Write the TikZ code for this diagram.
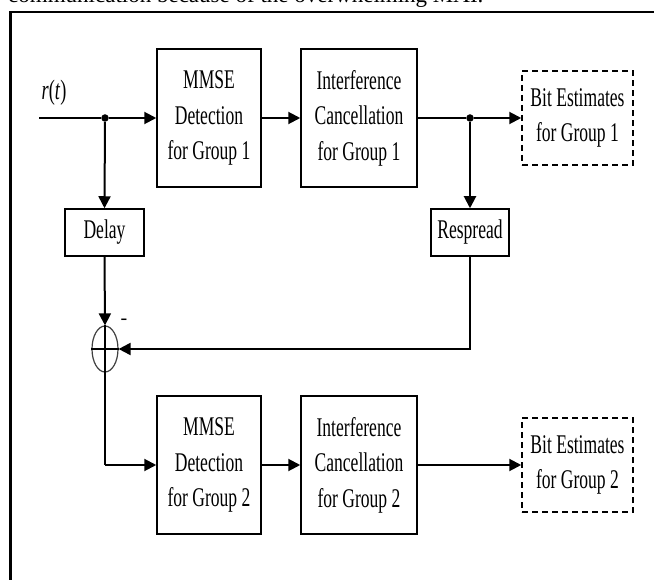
\documentclass[tikz,border=0pt]{standalone}
\usepackage{fontspec}
\setmainfont{Liberation Serif}
\newfontfamily\narrowfont{Liberation Serif}[FakeStretch=0.65]
\usetikzlibrary{arrows.meta,shapes.geometric}
\begin{document}
\begin{tikzpicture}[x=1pt,y=-1pt,
  blk/.style={draw,line width=1.5pt,inner sep=0pt,align=center,font=\narrowfont\fontsize{27}{35.5}\selectfont},
  dblk/.style={blk,dash pattern=on 6pt off 4pt},
  conn/.style={line width=2pt,-{Triangle[length=12pt,width=12pt]}},
  wire/.style={line width=2pt},
  dot/.style={circle,fill,inner sep=0pt,minimum size=7.5pt}]
\narrowfont\fontsize{27}{35.5}\selectfont
\useasboundingbox (0,0) rectangle (654,580);
\clip (0,0) rectangle (654,580);
% caption line cut at the top
\node[anchor=base west,inner sep=0pt,font=\rmfamily\fontsize{23}{27}\selectfont] (cap) at (8,3) {communication because of the overwhelming MAI.};
% outer frame
\draw[line width=2.6pt] (10.5,600) -- (10.5,12) -- (670,12);
% blocks
\node[blk,minimum width=104pt,minimum height=138pt] (mmse1) at (209,118) {MMSE\\Detection\\for Group 1};
\node[blk,minimum width=116pt,minimum height=138pt] (ic1) at (359,118) {Interference\\Cancellation\\for Group 1};
\node[dblk,minimum width=111pt,minimum height=94pt] (be1) at (577.5,118) {Bit Estimates\\for Group 1};
\node[blk,minimum width=79pt,minimum height=47pt] (delay) at (104.5,232.5) {Delay};
\node[blk,minimum width=78pt,minimum height=47pt] (resp) at (470,232.5) {Respread};
\node[draw=black!75,line width=1.2pt,ellipse,inner sep=0pt,minimum width=26pt,minimum height=46pt] (sum) at (105,349) {};
\node[blk,minimum width=104pt,minimum height=138pt] (mmse2) at (209,465) {MMSE\\Detection\\for Group 2};
\node[blk,minimum width=116pt,minimum height=138pt] (ic2) at (359,465) {Interference\\Cancellation\\for Group 2};
\node[dblk,minimum width=111pt,minimum height=94pt] (be2) at (577.5,465) {Bit Estimates\\for Group 2};
% labels
\node[inner sep=0pt,font=\narrowfont\fontsize{28}{30}\selectfont] (rt) at (54,93) {\textit{r}(\textit{t})};
\node[inner sep=0pt,font=\rmfamily\fontsize{20}{22}\selectfont] (minus) at (124,322) {-};
% junctions
\coordinate (in) at (39,118);
\node[dot] (d1) at (105,118) {};
\node[dot] (d2) at (470,118) {};
% cross in summer
\draw[line width=1.2pt] (sum.west) -- (sum.east);
\draw[line width=1.2pt] (sum.north) -- (sum.south);
% connectors
\draw[wire] (in) -- (d1);
\draw[conn] (d1) -- (mmse1.west);
\draw[conn] (mmse1) -- (ic1);
\draw[wire] (ic1.east) -- (d2);
\draw[conn] (d2) -- (be1.west);
\draw[conn] (d1) -- (delay.north);
\draw[conn] (d2) -- (resp.north);
\draw[conn] (delay.south) -- (sum.north);
\draw[conn] (resp.south) |- (sum.east);
\draw[wire] (sum.south) -- (105,465);
\draw[conn] (105,465) -- (mmse2.west);
\draw[conn] (mmse2) -- (ic2);
\draw[conn] (ic2) -- (be2);
\end{tikzpicture}
\end{document}
